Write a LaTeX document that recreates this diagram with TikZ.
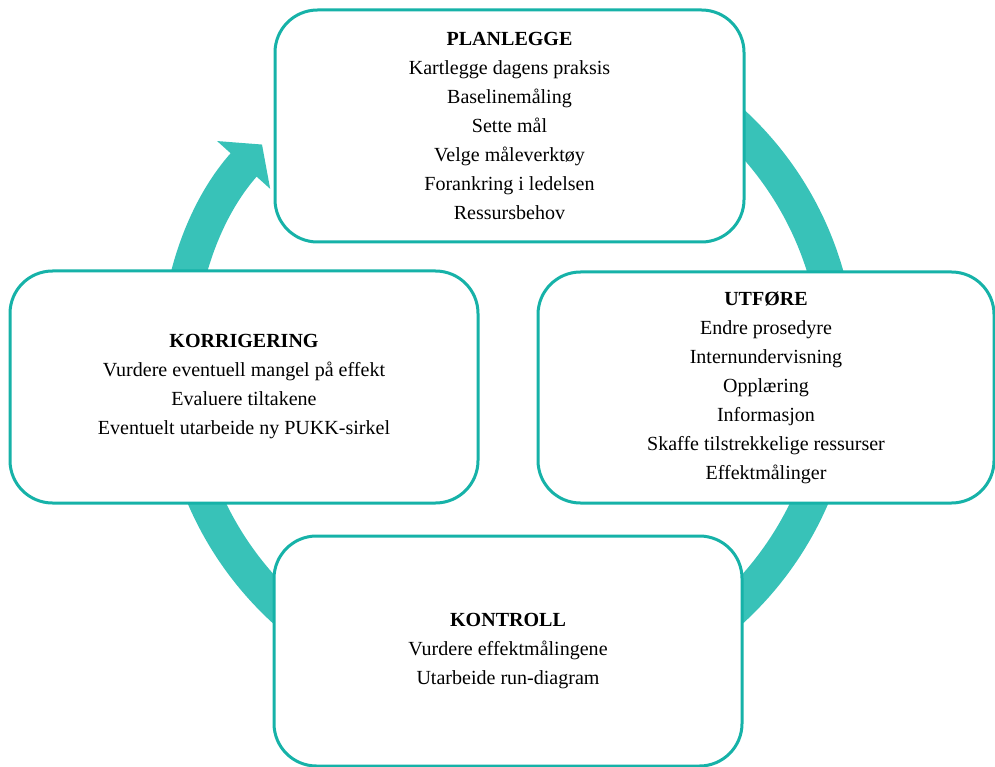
\documentclass[tikz,border=0pt]{standalone}
\usepackage{fontspec}
\setmainfont{Liberation Serif}
\usetikzlibrary{arrows.meta}
\definecolor{ringcol}{RGB}{56,194,184}
\definecolor{kantcol}{RGB}{22,178,168}
\tikzset{
  fase/.style={draw=kantcol, line width=0.06cm, fill=white, rounded corners=0.85cm,
    align=center, font=\fontsize{11.4}{16.5}\selectfont, inner sep=0pt},
  ring/.style={draw=ringcol, line width=0.7cm, -{Triangle[width=1.4cm,length=0.55cm,fill=ringcol]}}
}
\begin{document}
\begin{tikzpicture}
    \useasboundingbox (0,0) rectangle (19.9,-15.34);

    \coordinate (M) at (10.16,-7.32);
    \draw[ring] (M) ++(100:6.62) arc[start angle=100, end angle=-222, radius=6.62];

    \node[fase, minimum width=9.38cm, minimum height=4.64cm] (plan) at (10.19,-2.52)
      {\textbf{PLANLEGGE}\\Kartlegge dagens praksis\\Baselinemåling\\Sette mål\\Velge måleverktøy\\Forankring i ledelsen\\Ressursbehov};
    \node[fase, minimum width=9.12cm, minimum height=4.62cm] (utfor) at (15.32,-7.75)
      {\textbf{UTFØRE}\\Endre prosedyre\\Internundervisning\\Opplæring\\Informasjon\\Skaffe tilstrekkelige ressurser\\Effektmålinger};
    \node[fase, minimum width=9.36cm, minimum height=4.6cm] (kontroll) at (10.16,-13.02)
      {\textbf{KONTROLL}\\Vurdere effektmålingene\\Utarbeide run-diagram};
    \node[fase, minimum width=9.36cm, minimum height=4.64cm] (korr) at (4.88,-7.74)
      {\textbf{KORRIGERING}\\Vurdere eventuell mangel på effekt\\Evaluere tiltakene\\Eventuelt utarbeide ny PUKK-sirkel};

\end{tikzpicture}
\end{document}
